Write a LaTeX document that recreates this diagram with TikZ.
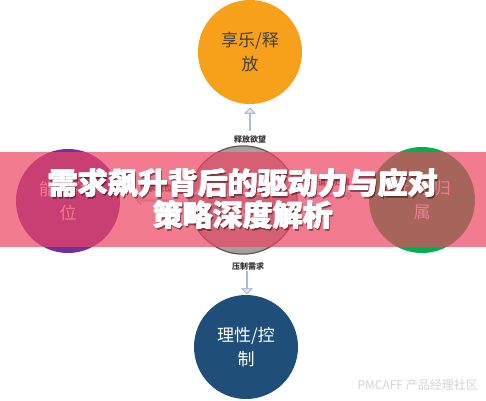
\documentclass[tikz,border=0pt]{standalone}
\usepackage{fontspec}
\setmainfont{Noto Sans CJK SC}
\newfontfamily\cjk{Noto Sans CJK SC}
\usetikzlibrary{shapes.arrows,calc}
\definecolor{orangec}{HTML}{F7A11A}
\definecolor{grayc}{HTML}{A0A0A0}
\definecolor{purplec}{HTML}{7030A0}
\definecolor{greenc}{HTML}{00B050}
\definecolor{bluec}{HTML}{1F4E79}
\definecolor{arrfill}{HTML}{DCE6F2}
\definecolor{arrline}{HTML}{8EA4BE}
\definecolor{bandc}{RGB}{239,68,96}
\definecolor{wmark}{HTML}{D4D4D4}
\tikzset{
  ball/.style={circle, minimum size=104pt, inner sep=0pt, align=center,
    font=\cjk\fontsize{17}{24}\selectfont, text=white},
  hollowarrow/.style={single arrow, draw=arrline, fill=arrfill, line width=0.6pt,
    inner sep=0pt, minimum width=10pt, single arrow head extend=2pt,
    single arrow head indent=0pt},
  smalllabel/.style={font=\cjk\bfseries\fontsize{8}{9}\selectfont, text=black!80, inner sep=0pt},
  titletext/.style={font=\cjk\bfseries\fontsize{30}{32}\selectfont, inner sep=0pt},
}
\begin{document}
\begin{tikzpicture}[x=1pt,y=-1pt]
\useasboundingbox (0,0) rectangle (486,400);
\fill[white] (0,0) rectangle (486,400);
% circles
\node[ball, fill=orangec, text=black!75] (top) at (250,52) {享乐/释\\放};
\node[ball, fill=grayc, draw=gray!70!black, line width=1.2pt] (mid) at (243,200) {人类/欲望的4\\类};
\node[ball, fill=purplec] (left) at (68,201) {能力/地\\位};
\node[ball, fill=greenc, minimum size=106pt] (right) at (422,200) {社交/归\\属};
\node[ball, fill=bluec] (bot) at (246,347) {理性/控\\制};
% labels
\node[smalllabel] (lup) at (250,139) {释放欲望};
\node[smalllabel] (ldown) at (248,266) {压制需求};
\node[smalllabel] (lleft) at (156,188) {追求地位};
\node[smalllabel] (lright) at (334,182) {追求归属};
% arrows
\node[hollowarrow, shape border rotate=90, minimum height=22pt] (aup)
  at ($(top.south)!0.5!(lup.north)$) {};
\node[hollowarrow, shape border rotate=270, minimum height=22pt] (adown)
  at ($(ldown.south)!0.5!(bot.north)$) {};
\node[hollowarrow, shape border rotate=180, minimum height=34pt, minimum width=8pt,
  single arrow head extend=1.5pt] (aleft) at ($(left.east)!0.5!(mid.west)$) {};
\node[hollowarrow, minimum height=36pt, minimum width=8pt,
  single arrow head extend=1.5pt] (aright) at ($(mid.east)!0.5!(right.west)+(0,-4)$) {};
% band
\fill[bandc, opacity=0.7] (0,152) rectangle (486,247);
% title shadow
\node[titletext, text=black, opacity=0.45] (t1s) at (244.8,184.8) {需求飙升背后的驱动力与应对};
\node[titletext, text=black, opacity=0.45] (t2s) at (244.8,216.8) {策略深度解析};
% title (fake heavy weight by offset copies)
\node[titletext, text=white] (t1a) at (242.6,183) {需求飙升背后的驱动力与应对};
\node[titletext, text=white] (t1b) at (243.4,183) {需求飙升背后的驱动力与应对};
\node[titletext, text=white] (t1c) at (243,182.6) {需求飙升背后的驱动力与应对};
\node[titletext, text=white] (t1d) at (243,183.4) {需求飙升背后的驱动力与应对};
\node[titletext, text=white] (t2a) at (242.6,215) {策略深度解析};
\node[titletext, text=white] (t2b) at (243.4,215) {策略深度解析};
\node[titletext, text=white] (t2c) at (243,214.6) {策略深度解析};
\node[titletext, text=white] (t2d) at (243,215.4) {策略深度解析};
% watermark
\node[font=\cjk\fontsize{12}{12}\selectfont, text=wmark, anchor=east, inner sep=0pt] (wm) at (478,385) {PMCAFF 产品经理社区};
\end{tikzpicture}
\end{document}
